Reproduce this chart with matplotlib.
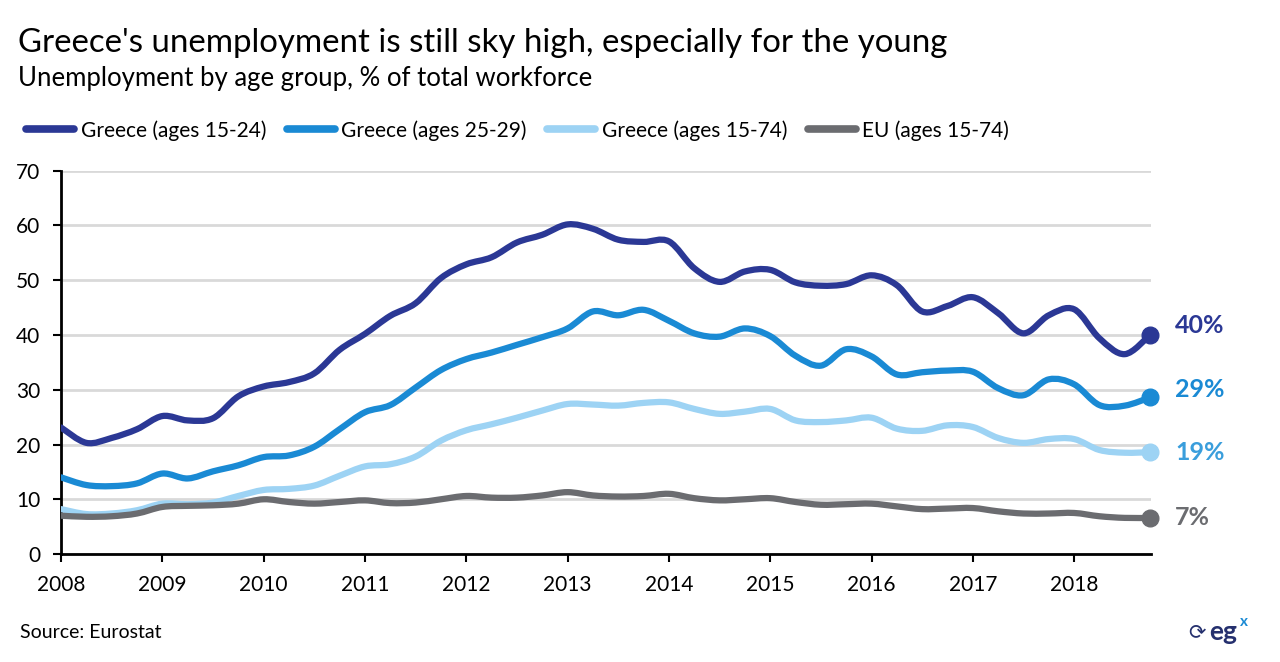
import numpy as np
import matplotlib
matplotlib.use('Agg')
from matplotlib import pyplot as plt
from matplotlib.path import Path
from matplotlib.patches import PathPatch
from matplotlib.lines import Line2D

plt.rcParams['font.family'] = ['Lato', 'DejaVu Sans']

# quarterly data, 2008Q1 .. 2018Q4
quarters = np.arange(2008, 2018.76, 0.25)

greece_15_24 = [23.1, 20.3, 21.2, 22.8, 25.2, 24.4, 24.8, 28.8, 30.6, 31.4, 33.0, 37.3,
                40.2, 43.5, 45.8, 50.4, 52.9, 54.2, 56.9, 58.3, 60.2, 59.4, 57.4, 57.0,
                57.1, 52.2, 49.7, 51.6, 51.9, 49.6, 49.0, 49.3, 50.9, 49.1, 44.3, 45.3,
                46.9, 44.0, 40.3, 43.6, 44.7, 39.4, 36.5, 40.0]
greece_25_29 = [14.0, 12.6, 12.4, 12.9, 14.7, 13.8, 15.1, 16.2, 17.7, 18.0, 19.6, 22.8,
                25.9, 27.2, 30.4, 33.6, 35.6, 36.8, 38.2, 39.6, 41.2, 44.3, 43.6, 44.6,
                42.6, 40.3, 39.7, 41.2, 39.8, 36.2, 34.4, 37.4, 36.1, 32.8, 33.2, 33.5,
                33.3, 30.3, 29.0, 31.9, 31.0, 27.2, 27.1, 28.6]
greece_15_74 = [8.2, 7.3, 7.4, 8.0, 9.2, 9.1, 9.4, 10.6, 11.7, 11.9, 12.5, 14.3,
                16.0, 16.4, 17.8, 20.7, 22.6, 23.7, 24.9, 26.2, 27.4, 27.3, 27.1, 27.6,
                27.7, 26.5, 25.6, 26.0, 26.5, 24.4, 24.1, 24.4, 24.9, 22.9, 22.5, 23.5,
                23.2, 21.2, 20.3, 21.0, 21.0, 19.0, 18.5, 18.6]
eu_15_74 = [7.0, 6.8, 6.9, 7.4, 8.6, 8.8, 8.9, 9.2, 10.0, 9.5, 9.2, 9.5,
            9.8, 9.3, 9.4, 10.0, 10.6, 10.3, 10.3, 10.7, 11.3, 10.7, 10.5, 10.6,
            11.0, 10.2, 9.8, 10.0, 10.2, 9.5, 9.0, 9.1, 9.2, 8.7, 8.2, 8.3,
            8.4, 7.8, 7.4, 7.4, 7.5, 6.9, 6.6, 6.6]

series_names = ['Greece (ages 15-24)', 'Greece (ages 25-29)', 'Greece (ages 15-74)', 'EU (ages 15-74)']
end_labels = ['40%', '29%', '19%', '7%']
line_colors = ['#2B3895', '#1A8AD4', '#9DD3F4', '#6B6C70']
label_colors = ['#2B3895', '#1A8AD4', '#3A9EDC', '#6B6C70']
label_offsets = [7, 6, 0, 0]
years = list(range(2008, 2019))


def smooth_path(x, y):
    # Catmull-Rom style smoothing drawn as cubic bezier segments
    x = np.asarray(x, float)
    y = np.asarray(y, float)
    px = np.concatenate([[x[0]], x, [x[-1]]])
    py = np.concatenate([[y[0]], y, [y[-1]]])
    verts = [(x[0], y[0])]
    codes = [Path.MOVETO]
    for i in range(1, len(px) - 2):
        c1 = (px[i] + (px[i + 1] - px[i - 1]) / 6, py[i] + (py[i + 1] - py[i - 1]) / 6)
        c2 = (px[i + 1] - (px[i + 2] - px[i]) / 6, py[i + 1] - (py[i + 2] - py[i]) / 6)
        verts += [c1, c2, (px[i + 1], py[i + 1])]
        codes += [Path.CURVE4] * 3
    return Path(verts, codes)


fig = plt.figure(figsize=(12.8, 6.62), dpi=100)
ax = fig.add_axes([0.0477, 0.1631, 0.8516, 0.5790])

all_series = [greece_15_24, greece_25_29, greece_15_74, eu_15_74]
for vals, col, lab, lcol, off in zip(all_series, line_colors, end_labels, label_colors, label_offsets):
    patch = PathPatch(smooth_path(quarters, vals), facecolor='none', edgecolor=col,
                      lw=4.5, capstyle='round', joinstyle='round', zorder=3)
    ax.add_patch(patch)
    ax.plot(quarters[-1], vals[-1], 'o', color=col, ms=12, clip_on=False, zorder=4)
    ax.annotate(lab, (quarters[-1], vals[-1]), xytext=(18, off), textcoords='offset points',
                ha='left', va='center', fontsize=18, fontweight='bold', color=lcol,
                annotation_clip=False)

ax.set_xlim(2008, 2018.76)
ax.set_ylim(0, 70)
ax.set_yticks(range(0, 71, 10))
ax.set_xticks(years)
ax.set_xticklabels([str(y) for y in years])
ax.grid(axis='y', color='#D9D9D9', lw=2)
ax.set_axisbelow(True)
for s in ['top', 'right']:
    ax.spines[s].set_visible(False)
for s in ['left', 'bottom']:
    ax.spines[s].set_linewidth(2)
    ax.spines[s].set_color('black')
ax.tick_params(axis='both', direction='out', length=6, width=1.5, labelsize=15)
ax.tick_params(axis='y', pad=9)
ax.tick_params(axis='x', pad=9)

fig.text(0.014, 0.935, "Greece's unemployment is still sky high, especially for the young",
         fontsize=23.8, ha='left', va='center')
fig.text(0.014, 0.881, 'Unemployment by age group, % of total workforce',
         fontsize=18.5, ha='left', va='center')

handles = [Line2D([], [], color=c, lw=5.5, solid_capstyle='round') for c in line_colors]
fig.legend(handles, series_names, loc='center left', bbox_to_anchor=(0.006, 0.803), ncol=4,
           frameon=False, fontsize=15, handlelength=2.3, handletextpad=0.3, columnspacing=1.0)

fig.text(0.016, 0.045, 'Source: Eurostat', fontsize=14, ha='left', va='center')
fig.text(0.945, 0.045, 'eg', fontsize=19, fontweight='bold', color='#25306E', ha='left', va='center')
fig.text(0.969, 0.060, 'x', fontsize=11, fontweight='bold', color='#1A8AD4', ha='left', va='center')
fig.text(0.928, 0.045, '\u27f3', fontsize=15, color='#25306E', ha='left', va='center',
         family=['DejaVu Sans'])

fig.savefig('out.png', dpi=100)
